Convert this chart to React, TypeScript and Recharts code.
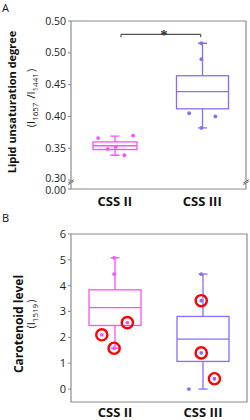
import React from "react";
import {
  ComposedChart,
  Bar,
  Scatter,
  XAxis,
  YAxis,
  ReferenceLine,
  ReferenceArea,
  ReferenceDot,
} from "recharts";

const GROUPS = ["CSS II", "CSS III"];

// Panel A: lipid unsaturation degree (I1657 / I1441)
const A_MIN = [0.339, 0.382];
const A_Q1 = [0.348, 0.412];
const A_MEDIAN = [0.354, 0.439];
const A_Q3 = [0.36, 0.464];
const A_MAX = [0.369, 0.515];
const A_II_X = [0.31, 0.42, 0.51, 0.61, 0.71];
const A_II_Y = [0.366, 0.349, 0.352, 0.339, 0.37];
const A_III_X = [1.35, 1.49, 1.49, 1.49, 1.65];
const A_III_Y = [0.405, 0.515, 0.49, 0.382, 0.4];
const A_TICKS = [0.286, 0.3, 0.35, 0.4, 0.45, 0.5, 0.55];
const A_TICK_LABELS = ["0.00", "0.30", "0.35", "0.40", "0.45", "0.50", "0.50"];

// Panel B: carotenoid level (I1519)
const B_MIN = [1.58, 0];
const B_Q1 = [2.46, 1.07];
const B_MEDIAN = [3.15, 1.93];
const B_Q3 = [3.84, 2.81];
const B_MAX = [5.08, 4.45];
const B_II_X = [0.49, 0.49, 0.35, 0.49, 0.64];
const B_II_Y = [5.08, 4.45, 2.1, 1.58, 2.57];
const B_III_X = [1.48, 1.48, 1.48, 1.63, 1.34];
const B_III_Y = [4.45, 3.42, 1.4, 0.4, 0];
// points marked with a red ring
const B_RING_X = [0.35, 0.49, 0.64, 1.48, 1.48, 1.63];
const B_RING_Y = [2.1, 1.58, 2.57, 3.42, 1.4, 0.4];
const B_TICKS = [0, 1, 2, 3, 4, 5, 6];

const PINK = "#ff4dff";
const PURPLE = "#8a6bff";
const COLORS = [PINK, PURPLE];
const FRAME = "#8c8c8c";
const FONT = "'Open Sans', sans-serif";
const NARROW = "'Liberation Sans Narrow', 'Open Sans', sans-serif";

const boxRows = (mn: number[], q1: number[], md: number[], q3: number[], mx: number[]) =>
  GROUPS.map((name, i) => ({
    name,
    range: [mn[i], mx[i]],
    q1: q1[i],
    median: md[i],
    q3: q3[i],
  }));

const pts = (xs: number[], ys: number[]) => xs.map((x, i) => ({ x, y: ys[i] }));

const makeBox = (widths: number[]) => (props: any) => {
  const { x, y, width, height, payload, index } = props;
  const [lo, hi] = payload.range;
  const top = Math.min(y, y + height);
  const h = Math.abs(height);
  const py = (v: number) => top + ((hi - v) / (hi - lo)) * h;
  const cx = x + width / 2;
  const bw = widths[index];
  const c = COLORS[index];
  const cap = 4.5;
  return (
    <g stroke={c} strokeWidth={1.3} fill="none">
      <line x1={cx} x2={cx} y1={py(hi)} y2={py(payload.q3)} />
      <line x1={cx} x2={cx} y1={py(payload.q1)} y2={py(lo)} />
      <line x1={cx - cap} x2={cx + cap} y1={py(hi)} y2={py(hi)} />
      <line x1={cx - cap} x2={cx + cap} y1={py(lo)} y2={py(lo)} />
      <rect x={cx - bw / 2} y={py(payload.q3)} width={bw} height={py(payload.q1) - py(payload.q3)} />
      <line x1={cx - bw / 2} x2={cx + bw / 2} y1={py(payload.median)} y2={py(payload.median)} />
    </g>
  );
};

const dot = (color: string) => (p: any) => <circle cx={p.cx} cy={p.cy} r={1.9} fill={color} />;
const ring = (p: any) => <circle cx={p.cx} cy={p.cy} r={5.6} fill="none" stroke="#ff0000" strokeWidth={2.4} />;

const CatTick = ({ x, y, payload, dy }: any) => (
  <text x={x} y={y + dy} textAnchor="middle" fontFamily={FONT} fontWeight={700} fontSize={13} fill="#111">
    {payload.value}
  </text>
);

// tick for panel A: the two labels around the axis break sit very close, nudge them apart a little
const ATick = ({ x, y, payload }: any) => {
  const i = A_TICKS.indexOf(payload.value);
  const nudge = i === 0 ? 1.5 : i === 1 ? -1.5 : 0;
  return (
    <text x={x} y={y + nudge} dy={3.5} textAnchor="end" fontFamily={FONT} fontSize={10.5} fill="#222">
      {A_TICK_LABELS[i]}
    </text>
  );
};

const sub = (s: string) => (
  <>
    <tspan dy={3} fontSize={8}>{s}</tspan>
    <tspan dy={-3}>{"\u200a"}</tspan>
  </>
);

const Title = ({ viewBox, line1, line2, x1, x2, off1, off2, size1 }: any) => {
  const cy = viewBox.y + viewBox.height / 2;
  const y1 = cy + off1;
  const y2 = cy + off2;
  return (
    <g>
      <text
        x={x1}
        y={y1}
        transform={`rotate(-90, ${x1}, ${y1})`}
        textAnchor="middle"
        fontFamily={NARROW}
        fontWeight={700}
        fontSize={size1}
        fill="#111"
      >
        {line1}
      </text>
      <text x={x2} y={y2} transform={`rotate(-90, ${x2}, ${y2})`} textAnchor="middle" fontFamily={NARROW} fontSize={11} fill="#111">
        {line2}
      </text>
    </g>
  );
};

const yTick = { fontSize: 11, fill: "#222", fontFamily: FONT };

function PanelA() {
  const data = boxRows(A_MIN, A_Q1, A_MEDIAN, A_Q3, A_MAX);
  const [lo, hi] = [A_TICKS[0], A_TICKS[A_TICKS.length - 1]];
  return (
    <ComposedChart width={250} height={210} data={data} margin={{ top: 21, right: 4, bottom: 0, left: 0 }}>
      <XAxis xAxisId="cat" dataKey="name" height={21} tickLine={false} axisLine={false} tickSize={0} tick={<CatTick dy={15} />} />
      <XAxis xAxisId="num" dataKey="x" type="number" domain={[0, 2]} hide allowDataOverflow />
      <YAxis
        type="number"
        domain={[lo, hi]}
        ticks={A_TICKS}
        interval={0}
        allowDataOverflow
        width={71}
        axisLine={false}
        tickSize={3}
        tickLine={{ stroke: FRAME }}
        tick={<ATick />}
        label={{
          content: (p: any) => (
            <Title
              {...p}
              line1="Lipid unsaturation degree"
              line2={<>(I{sub("1657")} /I{sub("1441")})</>}
              x1={16}
              x2={35}
              off1={-3}
              off2={-7}
              size1={11}
            />
          ),
        }}
      />
      <ReferenceArea xAxisId="num" x1={0} x2={2} y1={lo} y2={hi} fill="none" stroke={FRAME} strokeWidth={1.2} ifOverflow="visible" />
      <Bar xAxisId="cat" dataKey="range" barSize={52} shape={makeBox([44, 52])} isAnimationActive={false} />
      <Scatter xAxisId="num" data={pts(A_II_X, A_II_Y)} dataKey="y" shape={dot(PINK)} isAnimationActive={false} />
      <Scatter xAxisId="num" data={pts(A_III_X, A_III_Y)} dataKey="y" shape={dot(PURPLE)} isAnimationActive={false} />
      {/* significance bracket */}
      <ReferenceLine xAxisId="num" segment={[{ x: 0.571, y: 0.5244 }, { x: 0.571, y: 0.529 }]} stroke="#555" strokeWidth={1.2} />
      <ReferenceLine xAxisId="num" segment={[{ x: 0.571, y: 0.529 }, { x: 1.482, y: 0.529 }]} stroke="#555" strokeWidth={1.2} />
      <ReferenceLine xAxisId="num" segment={[{ x: 1.482, y: 0.5244 }, { x: 1.482, y: 0.529 }]} stroke="#555" strokeWidth={1.2} />
      <ReferenceDot
        xAxisId="num"
        x={1.063}
        y={0.536}
        r={0}
        label={{ value: "*", position: "center", fontSize: 15, fontWeight: 700, fill: "#333", dy: 5 }}
      />
      {/* axis break marks */}
      {[0, 2].map((bx) => (
        <React.Fragment key={bx}>
          <ReferenceLine xAxisId="num" segment={[{ x: bx, y: 0.2945 }, { x: bx, y: 0.299 }]} stroke="#fff" strokeWidth={3} ifOverflow="visible" />
          <ReferenceLine xAxisId="num" segment={[{ x: bx - 0.03, y: 0.2955 }, { x: bx + 0.03, y: 0.3005 }]} stroke="#555" strokeWidth={1} ifOverflow="visible" />
          <ReferenceLine xAxisId="num" segment={[{ x: bx - 0.03, y: 0.293 }, { x: bx + 0.03, y: 0.298 }]} stroke="#555" strokeWidth={1} ifOverflow="visible" />
        </React.Fragment>
      ))}
    </ComposedChart>
  );
}

function PanelB() {
  const data = boxRows(B_MIN, B_Q1, B_MEDIAN, B_Q3, B_MAX);
  return (
    <ComposedChart width={250} height={210} data={data} margin={{ top: 24, right: 3, bottom: 0, left: 0 }}>
      <XAxis xAxisId="cat" dataKey="name" height={18} tickLine={false} axisLine={false} tickSize={0} tick={<CatTick dy={13} />} />
      <XAxis xAxisId="num" dataKey="x" type="number" domain={[0, 2]} hide allowDataOverflow />
      <YAxis
        type="number"
        domain={[-0.5, 6]}
        ticks={B_TICKS}
        interval={0}
        allowDataOverflow
        width={71}
        axisLine={false}
        tickSize={3}
        tickLine={{ stroke: FRAME }}
        tick={yTick}
        label={{
          content: (p: any) => (
            <Title {...p} line1="Carotenoid level" line2={<>(I{sub("1519")})</>} x1={23} x2={35} off1={6} off2={-4} size1={12} />
          ),
        }}
      />
      <ReferenceArea xAxisId="num" x1={0} x2={2} y1={-0.5} y2={6} fill="none" stroke={FRAME} strokeWidth={1.2} ifOverflow="visible" />
      <Bar xAxisId="cat" dataKey="range" barSize={52} shape={makeBox([52, 52])} isAnimationActive={false} />
      <Scatter xAxisId="num" data={pts(B_RING_X, B_RING_Y)} dataKey="y" shape={ring} isAnimationActive={false} />
      <Scatter xAxisId="num" data={pts(B_II_X, B_II_Y)} dataKey="y" shape={dot(PINK)} isAnimationActive={false} />
      <Scatter xAxisId="num" data={pts(B_III_X, B_III_Y)} dataKey="y" shape={dot(PURPLE)} isAnimationActive={false} />
    </ComposedChart>
  );
}

const panelLabel: React.CSSProperties = {
  position: "absolute",
  left: 2,
  fontFamily: FONT,
  fontSize: 11,
  color: "#111",
  lineHeight: "12px",
};

export default function App() {
  return (
    <div style={{ position: "absolute", left: 0, top: 0, width: 250, height: 420, background: "#fff" }}>
      <div style={{ position: "absolute", left: 0, top: 0 }}>
        <PanelA />
      </div>
      <div style={{ position: "absolute", left: 0, top: 210 }}>
        <PanelB />
      </div>
      <div style={{ ...panelLabel, top: 2 }}>A</div>
      <div style={{ ...panelLabel, top: 212 }}>B</div>
    </div>
  );
}
